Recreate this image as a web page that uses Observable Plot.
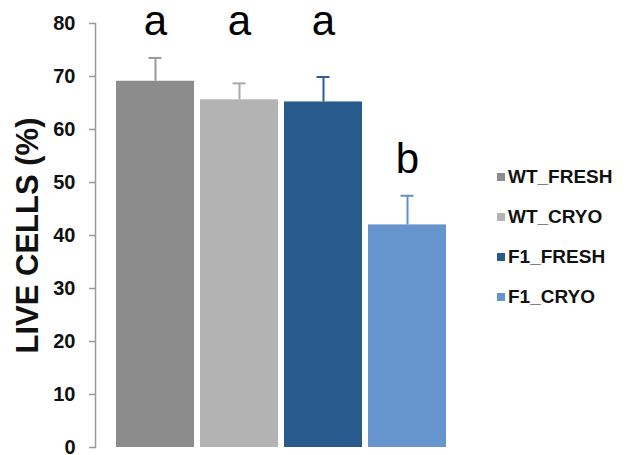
<!DOCTYPE html>
<html>
<head>
<meta charset="utf-8">
<script src="https://cdn.jsdelivr.net/npm/d3@7"></script>
<script src="https://cdn.jsdelivr.net/npm/@observablehq/plot@0.6"></script>
<style>
  html, body { margin: 0; padding: 0; background: #fff; }
  #wrap { position: relative; width: 631px; height: 455px; font-family: "Liberation Sans", Arial, sans-serif; }
  #legend { position: absolute; left: 497px; top: 0; }
  .item { position: absolute; white-space: nowrap; display: flex; align-items: center; font-weight: bold; font-size: 19px; color: #111; }
  .swatch { width: 8px; height: 8px; margin-right: 3px; }
</style>
</head>
<body>
<div id="wrap"><div id="legend"></div></div>
<script>
// Viability of cells per group (mean ± SD) with significance letters
const groups = ["WT_FRESH", "WT_CRYO", "F1_FRESH", "F1_CRYO"];
const liveCells = [69.1, 65.6, 65.2, 42.0];
const sd = [4.4, 3.1, 4.7, 5.5];
const letters = ["a", "a", "a", "b"];
const barColors = ["#8c8c8c", "#b3b3b3", "#285a8d", "#6595cc"];
const errColors = ["#999999", "#a9a9a9", "#2d5d90", "#6090c6"];
const yTicks = [0, 10, 20, 30, 40, 50, 60, 70, 80];

const rows = groups.map((g, i) => ({
  group: g, value: liveCells[i], top: liveCells[i] + sd[i], letter: letters[i]
}));
// letters sit just above the tallest error bar of their group
for (const r of rows) {
  const peak = d3.max(rows.filter(o => o.letter === r.letter), o => o.top);
  r.letterY = peak + 4.3;
}

const font = "Liberation Sans, Arial, sans-serif";
const chart = Plot.plot({
  width: 631,
  height: 455,
  marginTop: 23,
  marginBottom: 8,
  marginLeft: 95,
  marginRight: 164,
  style: { fontFamily: font, background: "#fff" },
  x: { domain: groups, paddingInner: 0.077, paddingOuter: 0.237, axis: null },
  y: { domain: [0, 80], axis: null },
  color: { domain: groups, range: barColors },
  marks: [
    Plot.barY(rows, { x: "group", y: "value", fill: "group" }),
    Plot.ruleX(rows, { x: "group", y1: "value", y2: "top", stroke: (d, i) => errColors[i], strokeWidth: 2 }),
    Plot.tickY(rows, { x: "group", y: "top", stroke: (d, i) => errColors[i], strokeWidth: 2, inset: 32.5 }),
    Plot.frame({ anchor: "left", stroke: "#999", strokeWidth: 1.5 }),
    Plot.axisY({ ticks: yTicks, tickSize: 6, text: null, stroke: "#999", strokeWidth: 1.5 }),
    Plot.axisY({ ticks: yTicks, tickSize: 0, tickPadding: 20, fontSize: 20, fontWeight: "bold", fill: "#111" }),
    Plot.text(rows, { x: "group", y: "letterY", text: "letter", lineAnchor: "bottom", fontSize: 42, fill: "#000" }),
    Plot.text(["LIVE CELLS (%)"], { frameAnchor: "left", textAnchor: "middle", dx: -67, rotate: -90, fontSize: 31, fontWeight: "bold", fill: "#111" })
  ]
});
document.getElementById("wrap").prepend(chart);

const legend = document.getElementById("legend");
groups.forEach((g, i) => {
  const item = document.createElement("div");
  item.className = "item";
  item.style.top = (166 + i * 40) + "px";
  const sw = document.createElement("span");
  sw.className = "swatch";
  sw.style.background = barColors[i];
  const label = document.createElement("span");
  label.textContent = g;
  item.append(sw, label);
  legend.append(item);
});
</script>
</body>
</html>
